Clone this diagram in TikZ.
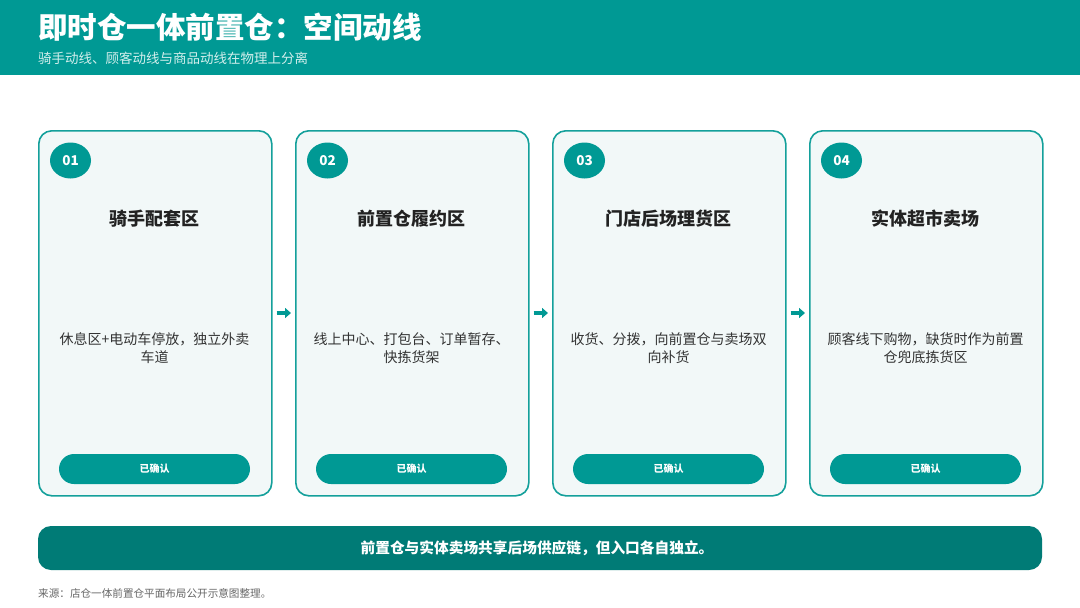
\documentclass[tikz,border=0pt]{standalone}
\usepackage{fontspec}
\setmainfont{Noto Sans CJK SC}
\usetikzlibrary{arrows.meta,shapes.geometric}
\definecolor{teal1}{HTML}{009994}
\definecolor{teal2}{HTML}{007B76}
\definecolor{cardfill}{HTML}{F2F8F8}
\definecolor{cardline}{HTML}{14A09B}
\definecolor{txtdark}{HTML}{222222}
\definecolor{txtmid}{HTML}{333333}
\definecolor{subtxt}{HTML}{D2EEEC}
\definecolor{foot}{HTML}{666666}
\tikzset{
  card/.style={draw=cardline, line width=1.6pt, fill=cardfill, rounded corners=13pt, minimum width=233pt, minimum height=365pt, anchor=north west, inner sep=0pt},
  numcirc/.style={ellipse, fill=teal1, minimum width=41pt, minimum height=36pt, inner sep=0pt, text=white, font=\fontsize{13.5}{13.5}\selectfont\bfseries},
  cardtitle/.style={font=\fontsize{18}{18}\selectfont\bfseries, text=txtdark},
  carddesc/.style={font=\fontsize{14}{18}\selectfont, text=txtmid, align=center, text width=210pt},
  btn/.style={fill=teal1, rounded corners=15pt, minimum width=191pt, minimum height=30pt, inner sep=0pt, text=white, font=\fontsize{10}{10}\selectfont\bfseries},
  flow/.style={-{Triangle[length=6pt,width=10pt]}, draw=teal1, fill=teal1, line width=3.5pt, shorten <=4pt, shorten >=4pt},
}
\begin{document}
\begin{tikzpicture}[x=1pt,y=-1pt]
\useasboundingbox (0,0) rectangle (1080,608);
\fill[white] (0,0) rectangle (1080,608);
% header
\fill[teal1] (0,0) rectangle (1080,75);
\node[anchor=west, text=white, font=\fontsize{29.5}{29.5}\selectfont\bfseries, inner sep=0pt] (title) at (38,27) {即时仓一体前置仓：空间动线};
\node[anchor=west, text=subtxt, font=\fontsize{13.5}{13.5}\selectfont, inner sep=0pt] (subtitle) at (38,58) {骑手动线、顾客动线与商品动线在物理上分离};
% cards
\foreach \i/\x/\num/\ttl/\desc in {
  1/38/01/骑手配套区/{休息区+电动车停放，独立外卖\\车道},
  2/295/02/前置仓履约区/{线上中心、打包台、订单暂存、\\快拣货架},
  3/552/03/门店后场理货区/{收货、分拨，向前置仓与卖场双\\向补货},
  4/809/04/实体超市卖场/{顾客线下购物，缺货时作为前置\\仓兜底拣货区}} {
  \node[card] (card\i) at (\x,130) {};
  \node[numcirc] (num\i) at (\x+32.5,160.5) {\num};
  \node[cardtitle] (ttl\i) at (\x+116.5,219) {\ttl};
  \node[carddesc] (desc\i) at (\x+116.5,348) {\desc};
  \node[btn] (btn\i) at (\x+116.5,469) {已确认};
}
\foreach \a/\b in {1/2,2/3,3/4} {
  \draw[flow] ([yshift=-183pt]card\a.north east) -- ([yshift=-183pt]card\b.north west);
}
% bottom bar
\fill[teal2, rounded corners=13pt] (38,526) rectangle (1042,570);
\node[text=white, font=\fontsize{14.7}{14.7}\selectfont\bfseries, inner sep=0pt] (summary) at (537,548) {前置仓与实体卖场共享后场供应链，但入口各自独立。};
\node[anchor=west, text=foot, font=\fontsize{10.6}{10.6}\selectfont, inner sep=0pt] (source) at (38,593) {来源：店仓一体前置仓平面布局公开示意图整理。};
\end{tikzpicture}
\end{document}
